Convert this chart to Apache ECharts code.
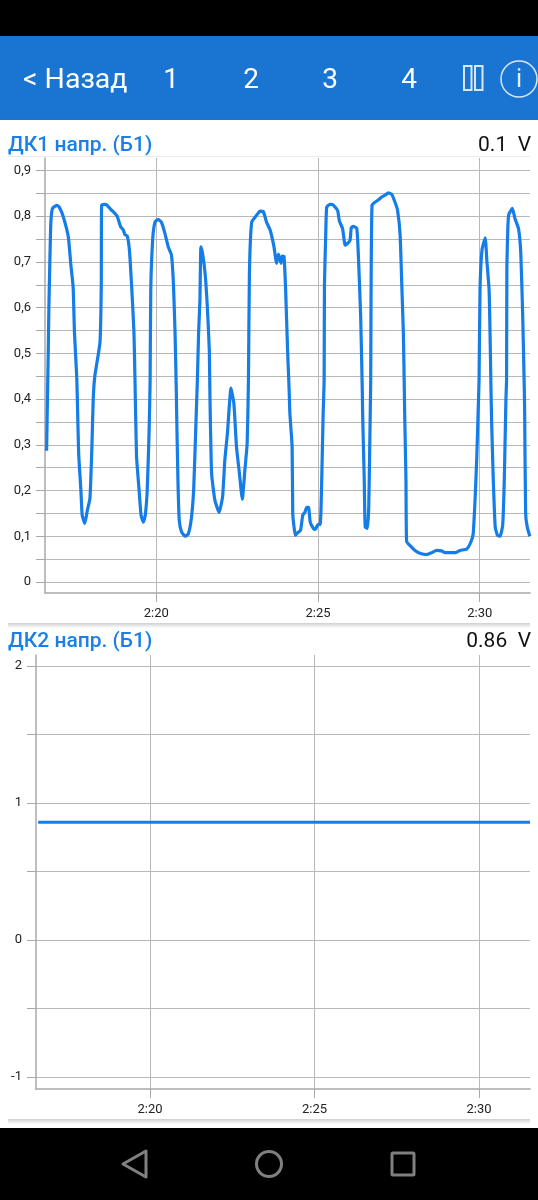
<!DOCTYPE html>
<html lang="ru">
  <head>
    <meta charset="UTF-8" />
    <title>ДК1 / ДК2 напр.</title>
    <script src="https://cdn.jsdelivr.net/npm/echarts@6/dist/echarts.min.js"></script>
    <style>
      html, body { margin: 0; padding: 0; background: #fff; }
      #main { width: 538px; height: 1200px; }
    </style>
  </head>
  <body>
    <div id="main"></div>
    <script>
      // time is minutes after 2:00
      const dk1Times = [
        16.61, 16.64, 16.66, 16.68, 16.71, 16.74, 16.79, 16.92, 17.00, 17.12, 17.28, 17.36, 17.43, 17.47, 17.54,
        17.56, 17.60, 17.67, 17.71, 17.79, 17.87, 17.95, 18.01, 18.05, 18.10, 18.26, 18.30, 18.31, 18.41, 18.48,
        18.59, 18.67, 18.79, 18.90, 18.98, 19.03, 19.10, 19.17, 19.24, 19.31, 19.34, 19.39, 19.47, 19.53, 19.60,
        19.66, 19.72, 19.78, 19.81, 19.83, 19.89, 19.96, 20.06, 20.16, 20.27, 20.37, 20.47, 20.53, 20.58, 20.62,
        20.63, 20.67, 20.71, 20.78, 20.89, 20.99, 21.09, 21.16, 21.23, 21.27, 21.31, 21.35, 21.38, 21.43, 21.51,
        21.58, 21.64, 21.66, 21.71, 21.81, 21.94, 22.05, 22.12, 22.20, 22.31, 22.40, 22.48, 22.57, 22.66, 22.74,
        22.81, 22.85, 22.88, 22.95, 23.10, 23.21, 23.31, 23.41, 23.52, 23.64, 23.72, 23.78, 23.86, 23.89, 23.95,
        24.00, 24.06, 24.11, 24.13, 24.20, 24.22, 24.26, 24.30, 24.36, 24.46, 24.53, 24.60, 24.65, 24.71, 24.76,
        24.86, 24.92, 25.00, 25.07, 25.12, 25.16, 25.19, 25.20, 25.24, 25.27, 25.37, 25.43, 25.53, 25.61, 25.66,
        25.76, 25.84, 25.92, 25.99, 26.03, 26.09, 26.20, 26.25, 26.32, 26.37, 26.38, 26.43, 26.46, 26.53, 26.57,
        26.60, 26.63, 26.64, 26.67, 26.77, 26.87, 26.97, 27.07, 27.18, 27.28, 27.38, 27.46, 27.54, 27.59, 27.64,
        27.67, 27.68, 27.72, 27.74, 27.84, 28.00, 28.15, 28.36, 28.51, 28.67, 28.82, 28.93, 29.24, 29.39, 29.60,
        29.73, 29.80, 29.86, 29.91, 29.95, 29.98, 30.01, 30.07, 30.17, 30.22, 30.29, 30.32, 30.35, 30.37, 30.42,
        30.48, 30.55, 30.63, 30.71, 30.76, 30.81, 30.83, 30.84, 30.87, 30.90, 31.01, 31.09, 31.20, 31.27, 31.33,
        31.38, 31.39, 31.42, 31.47, 31.55
      ];
      const dk1Volts = [
        0.287, 0.42, 0.5, 0.6, 0.7, 0.785, 0.817, 0.824, 0.82, 0.80, 0.755, 0.693, 0.645, 0.547, 0.45,
        0.40, 0.282, 0.20, 0.146, 0.128, 0.157, 0.183, 0.296, 0.398, 0.45, 0.524, 0.65, 0.824, 0.826, 0.824,
        0.815, 0.81, 0.80, 0.777, 0.77, 0.76, 0.757, 0.726, 0.645, 0.547, 0.45, 0.275, 0.20, 0.146, 0.131,
        0.146, 0.20, 0.333, 0.44, 0.64, 0.75, 0.787, 0.793, 0.787, 0.762, 0.733, 0.715, 0.653, 0.547, 0.417,
        0.37, 0.223, 0.135, 0.11, 0.10, 0.105, 0.142, 0.208, 0.355, 0.44, 0.547, 0.616, 0.733, 0.719, 0.675,
        0.60, 0.507, 0.405, 0.238, 0.18, 0.152, 0.186, 0.267, 0.325, 0.424, 0.39, 0.296, 0.238, 0.181, 0.245,
        0.303, 0.44, 0.675, 0.787, 0.802, 0.811, 0.81, 0.787, 0.77, 0.733, 0.697, 0.717, 0.697, 0.713, 0.712,
        0.639, 0.507, 0.417, 0.37, 0.296, 0.15, 0.12, 0.102, 0.107, 0.113, 0.146, 0.153, 0.163, 0.163, 0.131,
        0.117, 0.115, 0.126, 0.126, 0.238, 0.37, 0.44, 0.65, 0.762, 0.82, 0.826, 0.826, 0.82, 0.812, 0.79,
        0.773, 0.737, 0.741, 0.747, 0.775, 0.778, 0.773, 0.712, 0.58, 0.417, 0.37, 0.223, 0.12, 0.117, 0.165,
        0.296, 0.44, 0.617, 0.824, 0.831, 0.836, 0.842, 0.846, 0.851, 0.848, 0.831, 0.813, 0.758, 0.652, 0.543,
        0.417, 0.37, 0.223, 0.089, 0.08, 0.069, 0.063, 0.06, 0.064, 0.069, 0.068, 0.064, 0.064, 0.069, 0.072,
        0.088, 0.106, 0.186, 0.274, 0.37, 0.44, 0.64, 0.726, 0.753, 0.704, 0.639, 0.543, 0.417, 0.347, 0.223,
        0.12, 0.102, 0.10, 0.124, 0.223, 0.398, 0.44, 0.69, 0.775, 0.804, 0.817, 0.795, 0.773, 0.719, 0.58,
        0.417, 0.37, 0.15, 0.12, 0.10
      ];
      const dk2Times = [16.6, 31.55];
      const dk2Volts = [0.86, 0.86];

      const timeTicks = [20, 25, 30];
      const timeLabels = ['2:20', '2:25', '2:30'];
      const dk1Ticks = [0, 0.05, 0.1, 0.15, 0.2, 0.25, 0.3, 0.35, 0.4, 0.45, 0.5, 0.55, 0.6, 0.65, 0.7, 0.75, 0.8, 0.85, 0.9];
      const dk1Labels = [0, 0.1, 0.2, 0.3, 0.4, 0.5, 0.6, 0.7, 0.8, 0.9];
      const dk2Ticks = [-1, -0.5, 0, 0.5, 1, 1.5, 2];
      const dk2Labels = [-1, 0, 1, 2];

      const headerItems = ['1', '2', '3', '4'];
      const dk1Title = 'ДК1 напр. (Б1)';
      const dk2Title = 'ДК2 напр. (Б1)';
      const dk1Current = '0.1  V';
      const dk2Current = '0.86  V';

      const BLUE = '#1a75d2';
      const LINE = '#147de8';
      const GRID = '#b8b8b8';
      const AXIS = '#a8a8a8';

      function timeAxis(idx, min, max) {
        return {
          type: 'value', gridIndex: idx, min: min, max: max,
          axisLine: { onZero: false, lineStyle: { color: AXIS, width: 1.5 } },
          axisTick: { length: 9, customValues: timeTicks, lineStyle: { color: AXIS, width: 1 } },
          axisLabel: {
            customValues: timeTicks, margin: 14, color: '#222', fontSize: 13, fontFamily: 'Roboto',
            formatter: function (v) { return timeLabels[timeTicks.indexOf(v)]; }
          },
          splitLine: { show: true, lineStyle: { color: GRID, width: 1 } }
        };
      }

      function voltAxis(idx, min, max, ticks, labels, fmt) {
        return {
          type: 'value', gridIndex: idx, min: min, max: max,
          axisLine: { show: true, onZero: false, lineStyle: { color: AXIS, width: 1.5 } },
          axisTick: { show: true, length: 9, customValues: ticks, lineStyle: { color: AXIS, width: 1 } },
          axisLabel: {
            customValues: labels, margin: 14, padding: [2, 0, 0, 0], color: '#222', fontSize: 13,
            fontFamily: 'Roboto', formatter: fmt
          },
          splitLine: { show: true, lineStyle: { color: GRID, width: 1 } }
        };
      }

      function zip(a, b) {
        return a.map(function (t, i) { return [t, b[i]]; });
      }

      function txt(x, y, s, size, color, align, weight) {
        return {
          type: 'text', x: x, y: y, silent: true,
          style: {
            text: s, fontSize: size, fontFamily: 'Roboto', fontWeight: weight || 400,
            fill: color, align: align || 'left', verticalAlign: 'middle'
          }
        };
      }

      function shadow(y) {
        return {
          type: 'rect', silent: true, shape: { x: 8, y: y, width: 522, height: 5 },
          style: {
            fill: new echarts.graphic.LinearGradient(0, 0, 0, 1, [
              { offset: 0, color: '#cfcfcf' }, { offset: 1, color: '#ffffff' }
            ])
          }
        };
      }

      const decor = [
        { type: 'rect', silent: true, shape: { x: 0, y: 0, width: 538, height: 36 }, style: { fill: '#000' } },
        { type: 'rect', silent: true, shape: { x: 0, y: 36, width: 538, height: 84 }, style: { fill: BLUE } },
        { type: 'rect', silent: true, shape: { x: 0, y: 1128, width: 538, height: 72 }, style: { fill: '#000' } },
        txt(23, 81, '< Назад', 28.5, '#fff'),
        { type: 'rect', silent: true, shape: { x: 464, y: 66, width: 7.5, height: 24 }, style: { fill: 'none', stroke: '#d8e8f8', lineWidth: 2 } },
        { type: 'rect', silent: true, shape: { x: 475, y: 66, width: 7.5, height: 24 }, style: { fill: 'none', stroke: '#d8e8f8', lineWidth: 2 } },
        { type: 'circle', silent: true, shape: { cx: 519, cy: 79, r: 18 }, style: { fill: 'none', stroke: '#d8e8f8', lineWidth: 1.5 } },
        txt(519, 81, 'i', 25, '#e4effa', 'center'),
        txt(8, 146, dk1Title, 21, '#1a7fe6', 'left', 500),
        txt(531, 146, dk1Current, 21, '#111', 'right'),
        { type: 'rect', silent: true, shape: { x: 8, y: 156, width: 522, height: 1 }, style: { fill: '#ececec' } },
        shadow(623),
        txt(8, 642, dk2Title, 21, '#1a7fe6', 'left', 500),
        txt(531, 642, dk2Current, 21, '#111', 'right'),
        shadow(1119),
        { type: 'polygon', silent: true, shape: { points: [[123, 1164], [146, 1151], [146, 1177]] }, style: { fill: 'none', stroke: '#808080', lineWidth: 3, lineJoin: 'round' } },
        { type: 'circle', silent: true, shape: { cx: 269, cy: 1164, r: 12.5 }, style: { fill: 'none', stroke: '#808080', lineWidth: 3 } },
        { type: 'rect', silent: true, shape: { x: 392, y: 1153, width: 22, height: 22, r: 1 }, style: { fill: 'none', stroke: '#808080', lineWidth: 3 } }
      ];
      headerItems.forEach(function (s, i) {
        decor.push(txt([171, 251, 330, 409][i], 81, s, 28, '#fff', 'center'));
      });

      const chart = echarts.init(document.getElementById('main'), null, { renderer: 'canvas' });
      chart.setOption({
        animation: false,
        backgroundColor: '#fff',
        grid: [
          { left: 45, top: 158, width: 485, height: 435 },
          { left: 36, top: 655, width: 494, height: 434 }
        ],
        xAxis: [timeAxis(0, 16.56, 31.555), timeAxis(1, 16.535, 31.55)],
        yAxis: [
          voltAxis(0, -0.0241, 0.9274, dk1Ticks, dk1Labels, function (v) {
            return v === 0 ? '0' : v.toFixed(1).replace('.', ',');
          }),
          voltAxis(1, -1.0876, 2.08, dk2Ticks, dk2Labels, function (v) { return String(v); })
        ],
        series: [
          {
            type: 'line', xAxisIndex: 0, yAxisIndex: 0, data: zip(dk1Times, dk1Volts),
            showSymbol: false, symbol: 'none', smooth: 0.15,
            lineStyle: { color: LINE, width: 3.2, join: 'round' }
          },
          {
            type: 'line', xAxisIndex: 1, yAxisIndex: 1, data: zip(dk2Times, dk2Volts),
            showSymbol: false, symbol: 'none', lineStyle: { color: LINE, width: 3 }
          }
        ],
        graphic: { elements: decor }
      });
    </script>
  </body>
</html>
